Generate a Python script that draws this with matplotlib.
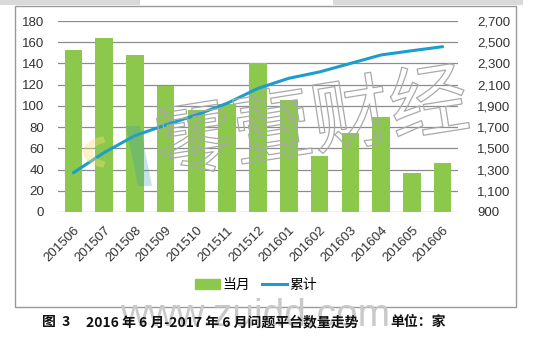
import matplotlib
matplotlib.use('Agg')
import matplotlib.pyplot as plt
from matplotlib.patches import Rectangle, Polygon, Wedge
from matplotlib.lines import Line2D
import matplotlib.patheffects as pe
import numpy as np

plt.rcParams['font.family'] = ['Noto Sans CJK SC', 'DejaVu Sans']

months = ['201506', '201507', '201508', '201509', '201510', '201511', '201512',
          '201601', '201602', '201603', '201604', '201605', '201606']
monthly = [153, 164, 148, 119, 96, 102, 140, 106, 53, 74, 90, 37, 46]
cumulative = [1270, 1460, 1620, 1720, 1815, 1925, 2065, 2160, 2220, 2300, 2380, 2420, 2458]
left_ticks = [0, 20, 40, 60, 80, 100, 120, 140, 160, 180]
right_ticks = [900, 1100, 1300, 1500, 1700, 1900, 2100, 2300, 2500, 2700]

bar_color = '#8CC84B'
line_color = '#1C9DCB'
grid_color = '#8C8C8C'
tick_font = ['Liberation Sans', 'DejaVu Sans']

fig = plt.figure(figsize=(5.44, 3.44), dpi=100)
W, H = 544, 344

def fx(px):
    return px / W

def fy(py):
    return 1 - py / H

# outer chart frame
fig.patches.append(Rectangle((fx(15), fy(307)), 501 / W, 301 / H,
                             transform=fig.transFigure, fill=False,
                             edgecolor='#9a9a9a', linewidth=1.0))
# shadow strip along the top edge
fig.patches.append(Rectangle((0, fy(5)), 140 / W, 5 / H,
                             transform=fig.transFigure, color='#d9d9d9', lw=0))
fig.patches.append(Rectangle((fx(333), fy(5)), 190 / W, 5 / H,
                             transform=fig.transFigure, color='#d9d9d9', lw=0))

ax = fig.add_axes([fx(58), fy(212), 400 / W, 191 / H])
x = np.arange(len(months))
ax.bar(x, monthly, width=0.57, color=bar_color, zorder=2)
ax.set_xlim(-0.5, len(months) - 0.5)
ax.set_ylim(0, 180)
ax.set_yticks(left_ticks)
ax.yaxis.grid(True, color=grid_color, linewidth=0.9, zorder=0)
ax.set_axisbelow(True)
for s in ax.spines.values():
    s.set_visible(False)
ax.tick_params(axis='both', length=0, labelsize=9.5, colors='#333333')
ax.tick_params(axis='y', pad=10)
ax.tick_params(axis='x', pad=9)
ax.set_xticks(x)
ax.set_xticklabels(months, rotation=45, ha='right', rotation_mode='anchor',
                   family=tick_font)
for lab in ax.get_yticklabels():
    lab.set_family(tick_font)

ax2 = ax.twinx()
ax2.plot(x, cumulative, color=line_color, linewidth=2.2, zorder=3,
         solid_capstyle='round')
ax2.set_ylim(900, 2700)
ax2.set_yticks(right_ticks)
ax2.set_yticklabels(['{:,}'.format(v) for v in right_ticks], family=tick_font)
ax2.tick_params(axis='y', length=0, labelsize=9.5, colors='#333333', pad=14)
for s in ax2.spines.values():
    s.set_visible(False)

# faint logo: yellow ring and slanted blue stripe
fig.patches.append(Wedge((fx(108), fy(152)), 25 / W, 100, 260, width=10 / W,
                         transform=fig.transFigure, color='#f3e27a', alpha=0.4,
                         lw=0))
fig.patches.append(Polygon([(fx(126), fy(126)), (fx(140), fy(126)),
                            (fx(152), fy(186)), (fx(138), fy(186))],
                           transform=fig.transFigure, color='#3f9fb0',
                           alpha=0.3, lw=0))

# outlined watermark lettering
wm = fig.text(fx(312), fy(126), '零壹财经', fontsize=57,
              color=(1, 1, 1, 0.0), rotation=9, ha='center', va='center',
              zorder=5)
wm.set_path_effects([pe.Stroke(linewidth=0.9, foreground='#a9a9a9')])

fig.text(fx(255), fy(316), 'www.zuidd.com', fontsize=28, color='#c9c9c9',
         ha='center', va='center', family=['Liberation Sans', 'DejaVu Sans'],
         zorder=1)

handles = [Rectangle((0, 0), 1, 1, color=bar_color),
           Line2D([0], [0], color=line_color, linewidth=2.2)]
fig.legend(handles, ['当月', '累计'], loc='center', bbox_to_anchor=(fx(256), fy(285)),
           ncol=2, frameon=False, fontsize=10, handlelength=1.8,
           handletextpad=0.2, columnspacing=0.85)

fig.text(fx(42), fy(322), '图  3', fontsize=10, fontweight='bold',
         color='#111111', ha='left', va='center', zorder=3)
fig.text(fx(86), fy(322), '2016 年 6 月-2017 年 6 月问题平台数量走势',
         fontsize=10, fontweight='bold', color='#111111', ha='left',
         va='center', zorder=3)
fig.text(fx(390), fy(322), '单位：家', fontsize=10, fontweight='bold',
         color='#111111', ha='left', va='center', zorder=3)

fig.savefig('out.png', dpi=100)
